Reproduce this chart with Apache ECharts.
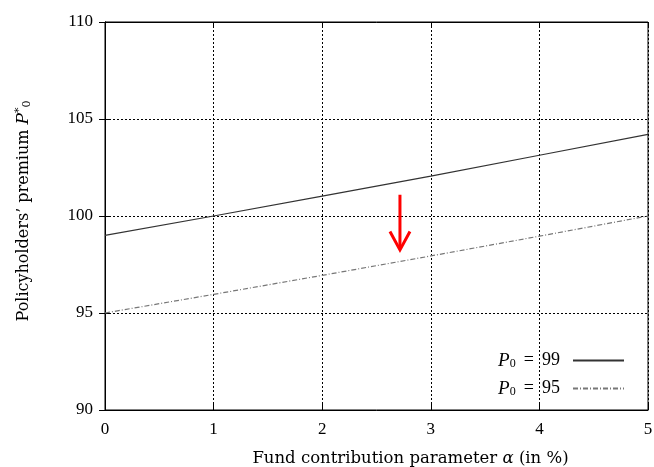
<!DOCTYPE html>
<html><head><meta charset="utf-8">
<script src="https://cdn.jsdelivr.net/npm/echarts@6/dist/echarts.min.js"></script>
<style>html,body{margin:0;padding:0;background:#fff}#c{width:654px;height:467px}</style>
</head><body><div id="c"></div>
<script>
const alphaValues = [0, 1, 2, 3, 4, 5];
const premium99 = [99.0, 100.0, 101.02, 102.06, 103.13, 104.21];
const premium95 = [95.0, 95.96, 96.94, 97.94, 98.96, 100.0];
const seriesNames = ['P0 = 99', 'P0 = 95'];
const arrowShaft = [[2.716, 101.1], [2.716, 98.3]];
const arrowHead = [[2.624, 99.2], [2.716, 98.25], [2.808, 99.2]];
const xTicks = [0, 1, 2, 3, 4, 5];
const yTicks = [90, 95, 100, 105, 110];

const font = 'Liberation Serif';
const tfont = 'DejaVu Serif';
const chart = echarts.init(document.getElementById('c'));
const gridLine = {show: true, lineStyle: {color: '#000', type: [2, 2], width: 1}};
chart.setOption({
  animation: false,
  grid: {left: 105, top: 22, right: 6, bottom: 57, show: true, borderColor: '#000', borderWidth: 1, outerBoundsMode: 'none', containLabel: false},
  legend: {
    orient: 'vertical', right: 24, top: 346, align: 'right', itemWidth: 51, itemHeight: 10, itemGap: 9,
    data: seriesNames,
    itemStyle: {opacity: 0, borderWidth: 0},
    formatter: function (n) { return '{i|P}{s|0}{t| \u2009= \u2009' + n.split('= ')[1] + '}'; },
    textStyle: {fontFamily: font, fontSize: 18, color: '#000', padding: [0, 8, 0, 0],
      rich: {i: {fontStyle: 'italic', fontFamily: font, fontSize: 19, color: '#000'},
             s: {fontSize: 12, fontFamily: font, color: '#000', verticalAlign: 'bottom', padding: [6, 0, 0, 0]},
             t: {fontSize: 18, fontFamily: font, color: '#000'}}}
  },
  xAxis: [{
    type: 'value', min: 0, max: 5, interval: 1,
    axisLine: {show: true, lineStyle: {color: '#000'}},
    axisTick: {inside: true, length: 6, lineStyle: {color: '#000'}},
    axisLabel: {fontFamily: font, fontSize: 17, color: '#000', margin: 11, formatter: v => xTicks.includes(v) ? String(v) : ''},
    splitLine: gridLine,
    name: '{t|Fund contribution parameter }{i|α}{t| (in %)}', nameLocation: 'middle', nameGap: 40,
    nameTextStyle: {padding: [0, 0, 0, 68], rich: {t: {fontFamily: tfont, fontSize: 16.5, color: '#000'}, i: {fontFamily: tfont, fontStyle: 'italic', fontSize: 16.5, color: '#000'}}}
  }, {
    type: 'value', min: 0, max: 5, interval: 1, position: 'top',
    axisLine: {show: true, lineStyle: {color: '#000'}},
    axisTick: {inside: true, length: 6, lineStyle: {color: '#000'}},
    axisLabel: {show: false}, splitLine: {show: false}
  }],
  yAxis: [{
    type: 'value', min: 90, max: 110, interval: 5,
    axisLine: {show: true, lineStyle: {color: '#000'}},
    axisTick: {show: true, inside: true, length: 6, lineStyle: {color: '#000'}},
    axisLabel: {fontFamily: font, fontSize: 17, color: '#000', margin: 12, formatter: v => yTicks.includes(v) ? String(v) : ''},
    splitLine: gridLine,
    name: "{t|Policyholders’ premium }{i|P}{sup|*}{s|0}", nameLocation: 'middle', nameGap: 72, nameRotate: 90,
    nameTextStyle: {padding: [0, 0, 0, 10], rich: {t: {fontFamily: tfont, fontSize: 16, color: '#000'}, i: {fontFamily: tfont, fontStyle: 'italic', fontSize: 17, color: '#000'},
      sup: {fontFamily: tfont, fontSize: 11, color: '#000', padding: [0, 0, 8, 0]},
      s: {fontFamily: tfont, fontSize: 11, color: '#000', padding: [8, 0, 0, 0]}}}
  }, {
    type: 'value', min: 90, max: 110, interval: 5, position: 'right',
    axisLine: {show: true, lineStyle: {color: '#000'}},
    axisTick: {show: true, inside: true, length: 6, lineStyle: {color: '#000'}},
    axisLabel: {show: false}, splitLine: {show: false}
  }],
  series: [
    {name: seriesNames[0], type: 'line', symbol: 'none', data: alphaValues.map((a, i) => [a, premium99[i]]),
     lineStyle: {color: '#333', width: 1.2}, itemStyle: {color: '#333'}},
    {name: seriesNames[1], type: 'line', symbol: 'none', data: alphaValues.map((a, i) => [a, premium95[i]]),
     lineStyle: {color: '#777', width: 1.2, type: [5, 2, 1, 2]}, itemStyle: {color: '#777'}},
    {type: 'line', symbol: 'none', data: arrowShaft, lineStyle: {color: '#ff0000', width: 3}, silent: true, z: 5},
    {type: 'line', symbol: 'none', data: arrowHead, lineStyle: {color: '#ff0000', width: 3, join: 'miter'}, silent: true, z: 5}
  ]
});
</script></body></html>
